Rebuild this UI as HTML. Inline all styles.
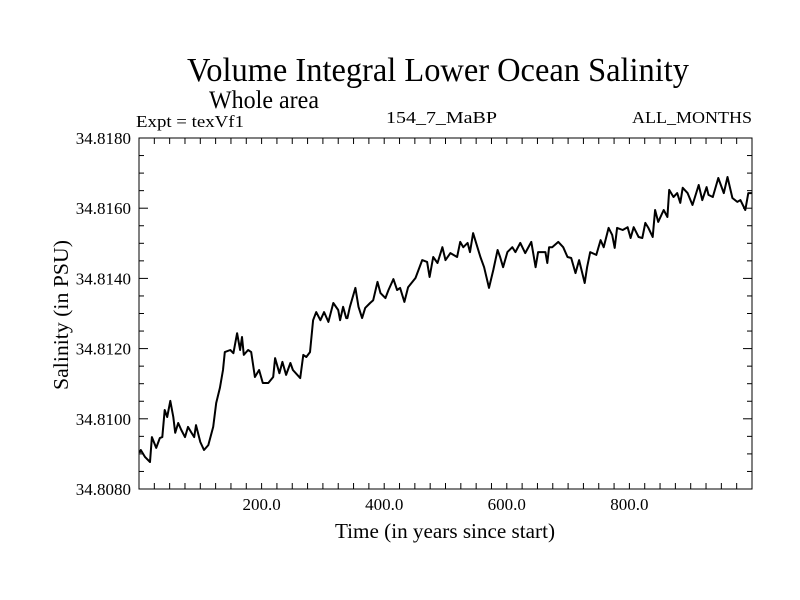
<!DOCTYPE html>
<html><head><meta charset="utf-8"><style>
body{margin:0;background:#fff}
svg{display:block}
text{font-family:"Liberation Serif",serif;fill:#000}
</style></head><body>
<svg id="c" width="800" height="600">
<text x="187" y="81" font-size="34" textLength="502" lengthAdjust="spacingAndGlyphs">Volume Integral Lower Ocean Salinity</text>
<text x="209" y="108" font-size="25" textLength="110" lengthAdjust="spacingAndGlyphs">Whole area</text>
<text x="136" y="127" font-size="17" textLength="108" lengthAdjust="spacingAndGlyphs">Expt = texVf1</text>
<text x="386" y="123" font-size="17" textLength="111" lengthAdjust="spacingAndGlyphs">154_7_MaBP</text>
<text x="632" y="123" font-size="17" textLength="120" lengthAdjust="spacingAndGlyphs">ALL_MONTHS</text>
<text x="335" y="538" font-size="21" textLength="220" lengthAdjust="spacingAndGlyphs">Time (in years since start)</text>
<text x="0" y="0" font-size="21" text-anchor="middle" textLength="150" lengthAdjust="spacingAndGlyphs" transform="translate(68,315) rotate(-90)">Salinity (in PSU)</text>
<g id="ticks"></g>
<rect x="139" y="138" width="613" height="351" fill="none" stroke="#000" stroke-width="1"/>
<path id="ln" fill="none" stroke="#000" stroke-width="2" stroke-linejoin="round"/>
</svg>
<script>
const years=[1,3,10,18,21,28,34,38,42,46,51,56,59,64,69,75,80,85,90,93,100,106,113,121,126,132,137,140,149,154,160,165,168,171,178,183,189,196,202,211,219,222,229,234,240,247,251,263,268,273,279,284,289,296,302,309,317,325,328,333,338,340,344,353,358,364,369,377,382,389,394,402,407,415,421,426,433,439,446,451,462,470,474,480,487,495,500,508,519,524,529,536,540,545,552,557,563,571,578,585,589,594,601,609,614,622,630,640,647,651,663,666,669,674,684,692,699,705,712,718,727,731,736,746,753,758,766,772,776,780,789,797,802,807,815,821,826,831,838,842,847,856,862,865,872,878,883,887,895,903,913,919,926,929,936,945,954,960,968,976,981,989,994,1000];
const salinity=[34.80903,34.80911,34.80891,34.80877,34.80948,34.80917,34.80945,34.80948,34.81025,34.81005,34.81051,34.81005,34.80960,34.80988,34.80968,34.80948,34.80977,34.80962,34.80948,34.80982,34.80934,34.80911,34.80925,34.80977,34.81045,34.81088,34.81139,34.81190,34.81196,34.81187,34.81244,34.81196,34.81233,34.81182,34.81196,34.81190,34.81119,34.81139,34.81102,34.81102,34.81119,34.81173,34.81130,34.81162,34.81125,34.81159,34.81139,34.81116,34.81182,34.81176,34.81190,34.81281,34.81304,34.81281,34.81304,34.81276,34.81330,34.81310,34.81281,34.81319,34.81287,34.81287,34.81319,34.81373,34.81319,34.81287,34.81316,34.81330,34.81338,34.81390,34.81358,34.81344,34.81367,34.81398,34.81367,34.81373,34.81333,34.81375,34.81390,34.81401,34.81452,34.81447,34.81404,34.81461,34.81444,34.81489,34.81452,34.81472,34.81461,34.81504,34.81489,34.81501,34.81475,34.81529,34.81489,34.81461,34.81432,34.81373,34.81424,34.81481,34.81461,34.81432,34.81475,34.81489,34.81475,34.81501,34.81472,34.81504,34.81432,34.81475,34.81475,34.81444,34.81489,34.81489,34.81504,34.81489,34.81461,34.81458,34.81415,34.81452,34.81387,34.81432,34.81475,34.81467,34.81509,34.81489,34.81544,34.81524,34.81487,34.81544,34.81538,34.81546,34.81515,34.81546,34.81518,34.81515,34.81558,34.81544,34.81518,34.81595,34.81561,34.81595,34.81575,34.81652,34.81632,34.81643,34.81615,34.81658,34.81643,34.81609,34.81666,34.81623,34.81660,34.81638,34.81632,34.81686,34.81643,34.81689,34.81629,34.81618,34.81623,34.81595,34.81643,34.81643];
const xTickLabels=["200.0","400.0","600.0","800.0"];
const xTickValues=[200,400,600,800];
const yTickLabels=["34.8080","34.8100","34.8120","34.8140","34.8160","34.8180"];
const yTickValues=[34.808,34.810,34.812,34.814,34.816,34.818];

const X0=139,X1=752,Y0=489,Y1=138,xmin=0,xmax=1000,ymin=34.808,ymax=34.818;
function sx(v){return X0+(v-xmin)/(xmax-xmin)*(X1-X0);}
function sy(v){return Y0-(v-ymin)/(ymax-ymin)*(Y0-Y1);}
const NS="http://www.w3.org/2000/svg";
const g=document.getElementById('ticks');
function line(x1,y1,x2,y2,name){const l=document.createElementNS(NS,'line');
l.setAttribute('x1',x1);l.setAttribute('y1',y1);l.setAttribute('x2',x2);l.setAttribute('y2',y2);
l.setAttribute('stroke','#000');l.setAttribute('stroke-width','1');


g.appendChild(l);}
function txt(x,y,s,anchor,name){const t=document.createElementNS(NS,'text');
t.setAttribute('x',x);t.setAttribute('y',y);t.setAttribute('font-size','17');t.setAttribute('text-anchor',anchor);t.textContent=s;


g.appendChild(t);}
for(let v=25;v<1000;v+=25){const x=sx(v);line(x,Y0,x,Y0-6,'x-tick');line(x,Y1,x,Y1+6,'x-tick-top');}
for(let i=1;i<20;i++){const v=ymin+i*0.0005;const y=sy(v);const L=(i%4===0)?9:5;line(X0,y,X0+L,y,'y-tick');line(X1,y,X1-L,y,'y-tick-right');}
xTickLabels.forEach((s,i)=>txt(sx(xTickValues[i]),510,s,'middle','x-tick-label'));
yTickLabels.forEach((s,i)=>txt(131,sy(yTickValues[i])+6,s,'end','y-tick-label'));
let d='';
years.forEach((yr,i)=>{d+=(i?'L':'M')+sx(yr).toFixed(1)+' '+sy(salinity[i]).toFixed(1);});
document.getElementById('ln').setAttribute('d',d);
</script>
</body></html>
